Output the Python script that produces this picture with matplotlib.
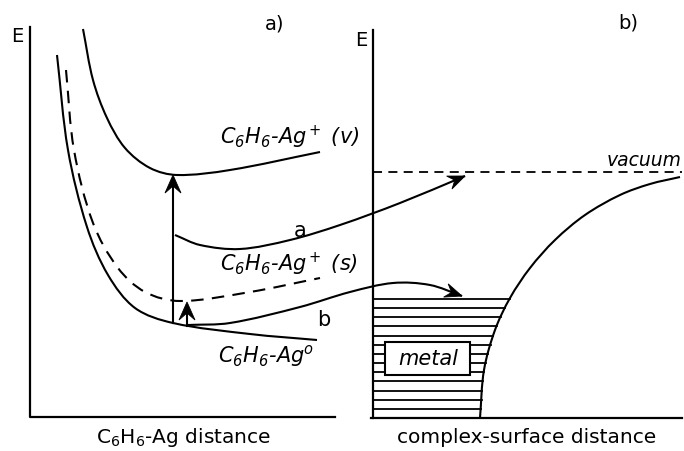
import numpy as np
import matplotlib
matplotlib.use("Agg")
import matplotlib.pyplot as plt
from matplotlib.path import Path
from matplotlib.patches import PathPatch, Polygon, Rectangle

plt.rcParams["font.family"] = ["DejaVu Sans"]
plt.rcParams["mathtext.default"] = "regular"

# All coordinates are in picture pixels (x to the right, y downwards).

# Panel a) potential curves
v_x = [83, 93, 107, 125, 150, 177, 230, 320]
v_y = [29, 80, 118, 148, 168, 175, 170, 152]

s_x = [66, 74, 93, 118, 145, 180, 250, 320]
s_y = [70, 150, 223, 268, 292, 301, 292, 278]

g_x = [57, 68, 87, 108, 135, 173, 250, 317]
g_y = [55, 150, 227, 275, 308, 323, 334, 340]

# Electron paths a and b
a_x = [175, 200, 240, 290, 340, 400, 465]
a_y = [235, 245, 249, 240, 225, 203, 176]

b_x = [188, 230, 300, 350, 393, 430, 462]
b_y = [325, 323, 307, 292, 283, 285, 296]

# Vertical excitation arrows
up_x = [173, 187]
up_from = [323, 326]
up_to = [175, 302]

# Panel b) surface potential and vacuum level
pot_x = [480, 484, 495, 510, 530, 555, 585, 620, 650, 680]
pot_y = [418, 370, 330, 298, 268, 240, 215, 195, 184, 177]
vacuum_y = 172
fermi_y = 299
n_levels = 14


def smooth_path(xs, ys):
    # chord-length Catmull-Rom through the points, drawn as cubic Beziers
    p = np.column_stack([xs, ys]).astype(float)
    t = np.concatenate([[0], np.cumsum(np.hypot(*np.diff(p, axis=0).T))])
    m = np.zeros_like(p)
    m[0] = (p[1] - p[0]) / (t[1] - t[0])
    m[-1] = (p[-1] - p[-2]) / (t[-1] - t[-2])
    for i in range(1, len(p) - 1):
        m[i] = (p[i + 1] - p[i - 1]) / (t[i + 1] - t[i - 1])
    verts = [p[0]]
    codes = [Path.MOVETO]
    for i in range(len(p) - 1):
        h = t[i + 1] - t[i]
        verts += [p[i] + m[i] * h / 3, p[i + 1] - m[i + 1] * h / 3, p[i + 1]]
        codes += [Path.CURVE4] * 3
    return Path(verts, codes)


def draw_curve(ax, xs, ys, **kw):
    ax.add_patch(PathPatch(smooth_path(xs, ys), fill=False, ec="black",
                           lw=1.5, capstyle="butt", **kw))


def arrow_head(ax, tip, frm, length=15, half=6, notch=5):
    tip = np.array(tip, float)
    d = tip - np.array(frm, float)
    d /= np.hypot(*d)
    n = np.array([-d[1], d[0]])
    base = tip - d * length
    pts = [tip, base + n * half, tip - d * (length - notch), base - n * half]
    ax.add_patch(Polygon(pts, closed=True, fc="black", ec="black", lw=0.6, zorder=3))


fig = plt.figure(figsize=(6.84, 4.51), dpi=100)
ax = fig.add_axes([0, 0, 1, 1])
ax.set_xlim(0, 684)
ax.set_ylim(451, 0)
ax.axis("off")

# Axes frames
ax.plot([30, 30, 335], [27, 417, 417], color="black", lw=1.6)
ax.plot([373, 373], [30, 418], color="black", lw=1.6)
ax.plot([371, 682], [418, 418], color="black", lw=1.6)

# Panel a curves
draw_curve(ax, v_x, v_y)
draw_curve(ax, g_x, g_y)
draw_curve(ax, s_x, s_y, linestyle=(0, (6, 4)))

# Vertical arrows
for x, y0, y1 in zip(up_x, up_from, up_to):
    ax.plot([x, x], [y0, y1 + 8], color="black", lw=1.5)
    arrow_head(ax, (x, y1), (x, y0), length=18, half=8, notch=7)

# Electron transfer paths
draw_curve(ax, a_x, a_y)
arrow_head(ax, (a_x[-1], a_y[-1]), (a_x[-2], a_y[-2]), length=17, half=7, notch=6)
draw_curve(ax, b_x, b_y)
arrow_head(ax, (b_x[-1], b_y[-1]), (b_x[-2], b_y[-2]), length=17, half=7, notch=6)

# Panel b: vacuum level and surface potential
ax.plot([373, 682], [vacuum_y, vacuum_y], color="black", lw=1.3,
        linestyle=(0, (5, 3.5)))
draw_curve(ax, pot_x, pot_y)

# Filled levels in the metal
order = np.argsort(pot_y)
for y in np.linspace(fermi_y, 418, n_levels):
    x_end = np.interp(y, np.array(pot_y)[order], np.array(pot_x)[order])
    ax.plot([373, x_end], [y, y], color="black", lw=1.3)

ax.add_patch(Rectangle((385, 342), 85, 33, fc="white", ec="black", lw=1.5, zorder=3))
ax.text(428, 359, "metal", style="italic", fontsize=15, ha="center", va="center", zorder=4)

# Labels
ax.text(17, 37, "E", fontsize=14, ha="center", va="center")
ax.text(361, 40, "E", fontsize=14, ha="center", va="center")
ax.text(275, 24, "a)", fontsize=14, ha="center", va="center")
ax.text(628, 23, "b)", fontsize=14, ha="center", va="center")

ax.text(220, 144, "C$_6$H$_6$-Ag$^+$ (v)", style="italic", fontsize=15, ha="left", va="baseline")
ax.text(220, 271, "C$_6$H$_6$-Ag$^+$ (s)", style="italic", fontsize=15, ha="left", va="baseline")
ax.text(218, 362, "C$_6$H$_6$-Ag$^o$", style="italic", fontsize=15, ha="left", va="baseline")
ax.text(300, 231, "a", fontsize=15, ha="center", va="center")
ax.text(324, 320, "b", fontsize=15, ha="center", va="center")
ax.text(682, 166, "vacuum", style="italic", fontsize=13.5, ha="right", va="baseline")

ax.text(184, 443, "C$_6$H$_6$-Ag distance", fontsize=14.5, ha="center", va="baseline")
ax.text(527, 443, "complex-surface distance", fontsize=14.5, ha="center", va="baseline")

fig.savefig("out.png", dpi=100)
